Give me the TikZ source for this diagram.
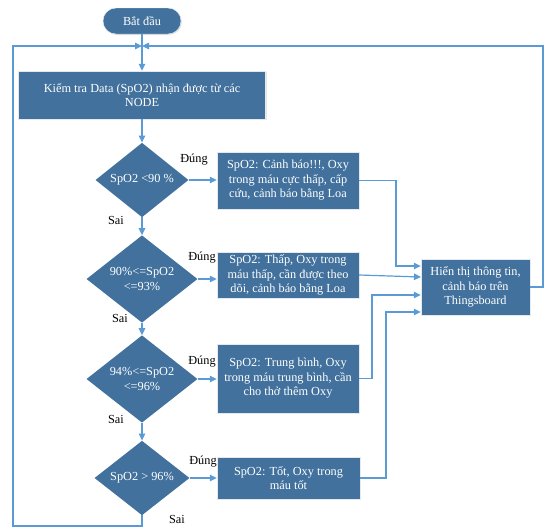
\documentclass[tikz,border=0pt]{standalone}
\usepackage{fontspec}
\setmainfont{Liberation Serif}
\usetikzlibrary{shapes.geometric,arrows.meta,shadows}
\definecolor{xanhdam}{HTML}{41719C}
\definecolor{xanhnhat}{HTML}{5B9BD5}
\tikzset{
	chu/.style={font=\rmfamily\fontsize{12.3}{14.5}\selectfont},
	hop/.style={chu, rectangle, fill=xanhdam, draw=white!85!xanhdam, text=white, align=center, inner sep=2pt,
		drop shadow={opacity=0.2, shadow xshift=1pt, shadow yshift=-1pt}},
	batdau/.style={hop, rounded corners=13pt, minimum width=78, minimum height=26},
	quyetdinh/.style={chu, diamond, fill=xanhdam, text=white, align=center, inner sep=0pt},
	nhan/.style={chu, text=black},
	duongnoi/.style={draw=xanhnhat, line width=1.2pt},
	muiten/.style={duongnoi, -{Triangle[length=7pt,width=6.5pt]}}
}
\begin{document}
\begin{tikzpicture}[x=1pt, y=-1pt]
	\useasboundingbox (0,0) rectangle (548,528);
	
	% Cac khoi chinh
	\node[batdau] (start) at (142,21) {Bắt đầu};
	\node[hop, minimum width=247, minimum height=48] (kiemtra) at (142,95) {Kiểm tra Data (SpO2) nhận được từ các\\NODE};
	
	\node[quyetdinh, minimum width=93, minimum height=70] (d1) at (142,180) {SpO2 <90 \%};
	\node[quyetdinh, minimum width=111, minimum height=68] (d2) at (142,279) {90\%<=SpO2\\<=93\%};
	\node[quyetdinh, minimum width=111, minimum height=70] (d3) at (142,379) {94\%<=SpO2\\<=96\%};
	\node[quyetdinh, minimum width=95, minimum height=70] (d4) at (142,478) {SpO2 > 96\%};
	
	\node[hop, minimum width=142, minimum height=57] (hop1) at (288,180.5) {SpO2: Cảnh báo!!!, Oxy\\trong máu cực thấp, cấp\\cứu, cảnh báo bằng Loa};
	\node[hop, minimum width=142, minimum height=46] (hop2) at (288,275) {SpO2: Thấp, Oxy trong\\máu thấp, cần được theo\\dõi, cảnh báo bằng Loa};
	\node[hop, minimum width=142, minimum height=69] (hop3) at (288,378.5) {SpO2: Trung bình, Oxy\\trong máu trung bình, cần\\cho thở thêm Oxy};
	\node[hop, minimum width=143, minimum height=42] (hop4) at (288.5,478) {SpO2: Tốt, Oxy trong\\máu tốt};
	
	\node[hop, minimum width=109, minimum height=56] (hienthi) at (475.5,287) {Hiển thị thông tin,\\cảnh báo trên\\Thingsboard};
	
	% Nhan Dung / Sai
	\node[nhan] (dung1) at (194,160) {Đúng};
	\node[nhan] (dung2) at (202,258) {Đúng};
	\node[nhan] (dung3) at (202,362) {Đúng};
	\node[nhan] (dung4) at (203,462) {Đúng};
	\node[nhan] (sai1) at (116,220) {Sai};
	\node[nhan] (sai2) at (120,318) {Sai};
	\node[nhan] (sai3) at (116,419) {Sai};
	\node[nhan] (sai4) at (177,519) {Sai};
	
	% Diem re
	\coordinate (nhap) at (142,46);
	\coordinate (goctrai) at (13,526);
	\coordinate (gocphai) at (543,46);
	\coordinate (re1) at (396,266);
	\coordinate (vao2) at (421,277);
	\coordinate (re3) at (372,295);
	\coordinate (re4) at (386,312);
	
	% Duong noi
	\draw[duongnoi] (start) -- (nhap);
	\draw[muiten] (nhap) -- (kiemtra);
	\draw[muiten] (kiemtra) -- (d1);
	\draw[muiten] (d1) -- (d2);
	\draw[muiten] (d2) -- (d3);
	\draw[muiten] (d3) -- (d4);
	
	\draw[muiten] (d1.east) -- (d1.east -| hop1.west);
	\draw[muiten] (d2.east) -- (d2.east -| hop2.west);
	\draw[muiten] (d3.east) -- (d3.east -| hop3.west);
	\draw[muiten] (d4.east) -- (d4.east -| hop4.west);
	
	\draw[muiten] (hop1.east) -| (re1) -- (re1 -| hienthi.west);
	\draw[muiten] (hop2.east) -- (vao2);
	\draw[muiten] (hop3.east) -| (re3) -- (re3 -| hienthi.west);
	\draw[muiten] (hop4.east) -| (re4) -- (re4 -| hienthi.west);
	
	% Vong lap
	\draw[muiten] (d4.south) |- (goctrai) |- (nhap);
	\draw[muiten] (hienthi.east) -| (gocphai) -- (nhap);
\end{tikzpicture}
\end{document}
